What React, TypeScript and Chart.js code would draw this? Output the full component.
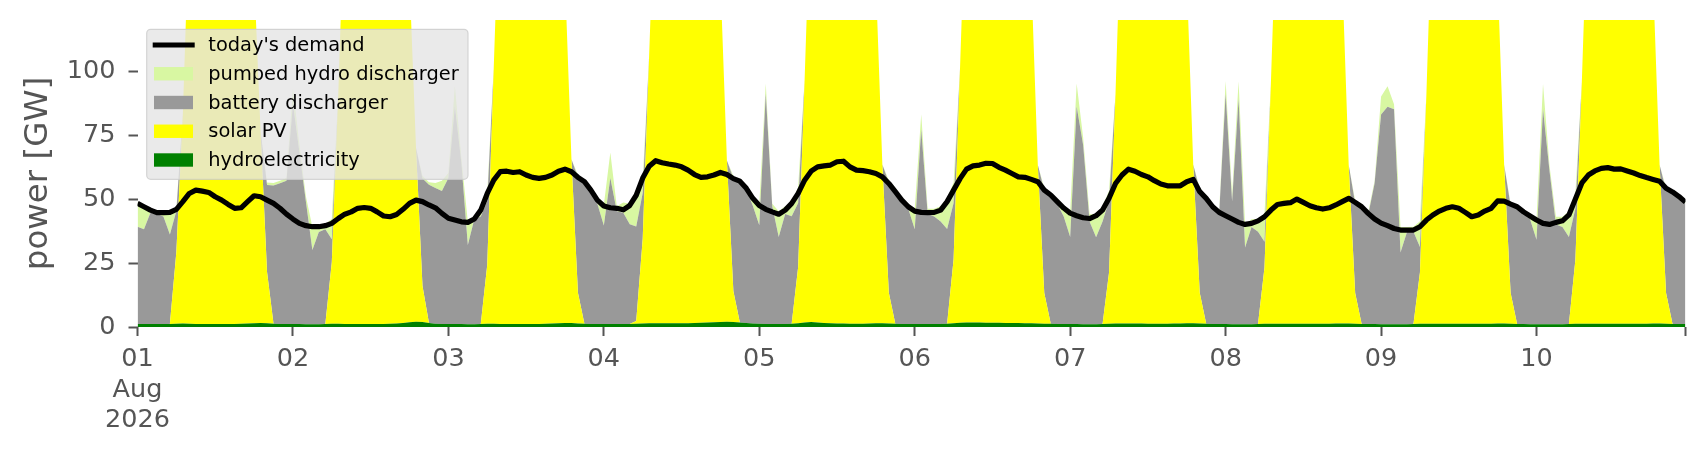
import { useEffect, useRef } from "react";
import { Chart, registerables } from "chart.js";

Chart.register(...registerables);

// hourly values, 1 Aug 2026 00:00 .. 10 Aug 2026 23:00, one row per day
const dayLabels = ["01", "02", "03", "04", "05", "06", "07", "08", "09", "10"];

const demandRows = [
  [48.3, 47.0, 45.7, 44.7, 44.7, 44.8, 46.0, 49.0, 52.2, 53.5, 53.1, 52.6, 50.9, 49.6, 47.9, 46.4, 46.6, 49.0, 51.3, 50.9, 49.6, 48.3, 46.4, 44.1],
  [42.2, 40.5, 39.6, 39.2, 39.2, 39.6, 40.5, 42.4, 44.1, 45.0, 46.4, 46.7, 46.4, 45.0, 43.4, 43.1, 44.0, 46.0, 48.3, 49.6, 49.0, 47.7, 46.6, 44.4],
  [42.5, 41.8, 41.1, 40.9, 42.2, 45.7, 52.2, 57.4, 60.7, 60.9, 60.4, 60.7, 59.4, 58.5, 58.1, 58.5, 59.4, 60.9, 61.7, 60.7, 58.5, 56.8, 53.5, 49.6],
  [47.3, 46.6, 46.4, 45.8, 47.5, 51.5, 58.2, 62.8, 65.0, 64.2, 63.7, 63.3, 62.6, 61.3, 59.6, 58.5, 58.7, 59.4, 60.4, 59.6, 58.0, 57.0, 54.2, 50.3],
  [47.5, 46.0, 45.0, 44.1, 45.7, 48.3, 52.2, 57.4, 60.9, 62.6, 63.0, 63.3, 64.6, 64.8, 62.6, 61.3, 61.1, 60.7, 60.0, 58.7, 56.1, 52.9, 49.6, 47.0],
  [45.3, 44.8, 44.7, 44.8, 45.7, 49.0, 53.5, 58.0, 61.7, 63.0, 63.3, 64.0, 63.9, 62.4, 61.3, 60.0, 58.7, 58.5, 57.7, 56.8, 53.5, 51.6, 49.0, 46.5],
  [44.5, 43.5, 42.7, 42.4, 43.5, 45.7, 50.3, 56.1, 59.4, 61.7, 60.9, 59.6, 58.7, 57.2, 55.9, 55.2, 55.2, 55.2, 56.8, 57.7, 52.9, 50.3, 47.0, 44.8],
  [43.5, 42.2, 40.9, 40.1, 40.5, 41.5, 43.1, 45.7, 47.9, 48.3, 48.6, 50.0, 48.7, 47.4, 46.6, 46.1, 46.6, 47.7, 49.0, 50.3, 48.7, 47.0, 44.4, 42.2],
  [40.6, 39.6, 38.5, 37.9, 37.9, 37.9, 39.2, 41.8, 43.8, 45.3, 46.4, 47.0, 46.4, 44.8, 43.1, 43.8, 45.3, 46.4, 49.3, 49.2, 48.0, 47.0, 45.0, 43.4],
  [41.8, 40.5, 40.1, 40.9, 41.5, 43.8, 50.0, 56.3, 59.4, 61.0, 62.0, 62.3, 61.7, 61.8, 61.0, 60.2, 59.2, 58.4, 57.7, 57.0, 54.2, 52.8, 51.0, 48.8],
];

const hydroRows = [
  [1.2, 1.2, 1.2, 1.2, 1.2, 1.2, 1.3, 1.4, 1.3, 1.2, 1.2, 1.2, 1.2, 1.2, 1.2, 1.2, 1.3, 1.4, 1.5, 1.6, 1.5, 1.3, 1.2, 1.2],
  [1.2, 1.2, 1.1, 1.1, 1.1, 1.2, 1.3, 1.3, 1.2, 1.2, 1.2, 1.2, 1.2, 1.2, 1.2, 1.3, 1.4, 1.6, 1.9, 2.1, 2.0, 1.6, 1.3, 1.2],
  [1.2, 1.2, 1.2, 1.1, 1.1, 1.2, 1.3, 1.3, 1.2, 1.2, 1.2, 1.2, 1.2, 1.2, 1.2, 1.3, 1.4, 1.5, 1.6, 1.6, 1.4, 1.3, 1.2, 1.2],
  [1.2, 1.2, 1.2, 1.2, 1.2, 1.3, 1.4, 1.5, 1.5, 1.5, 1.5, 1.5, 1.5, 1.5, 1.6, 1.7, 1.8, 1.9, 2.0, 2.1, 2.0, 1.8, 1.6, 1.4],
  [1.3, 1.2, 1.2, 1.2, 1.2, 1.3, 1.5, 1.8, 2.0, 1.8, 1.6, 1.5, 1.4, 1.4, 1.3, 1.3, 1.3, 1.4, 1.5, 1.5, 1.4, 1.3, 1.2, 1.2],
  [1.2, 1.2, 1.2, 1.2, 1.2, 1.3, 1.5, 1.7, 1.8, 1.8, 1.8, 1.7, 1.7, 1.7, 1.6, 1.6, 1.6, 1.5, 1.5, 1.4, 1.3, 1.3, 1.2, 1.2],
  [1.2, 1.2, 1.1, 1.1, 1.1, 1.2, 1.3, 1.4, 1.4, 1.4, 1.4, 1.4, 1.3, 1.3, 1.3, 1.3, 1.4, 1.4, 1.5, 1.5, 1.4, 1.3, 1.2, 1.2],
  [1.2, 1.1, 1.1, 1.1, 1.1, 1.2, 1.3, 1.3, 1.3, 1.3, 1.3, 1.3, 1.3, 1.3, 1.3, 1.3, 1.3, 1.4, 1.4, 1.4, 1.3, 1.2, 1.2, 1.2],
  [1.1, 1.1, 1.1, 1.1, 1.1, 1.2, 1.3, 1.3, 1.3, 1.3, 1.3, 1.3, 1.3, 1.3, 1.3, 1.3, 1.3, 1.3, 1.4, 1.4, 1.3, 1.2, 1.2, 1.1],
  [1.1, 1.1, 1.1, 1.1, 1.1, 1.2, 1.3, 1.3, 1.3, 1.3, 1.3, 1.3, 1.3, 1.3, 1.3, 1.3, 1.3, 1.3, 1.4, 1.4, 1.3, 1.2, 1.2, 1.2],
];

const solarRows = [
  [0, 0, 0, 0, 0, 0, 28, 82, 160, 205, 232, 246, 250, 244, 230, 208, 183, 160, 136, 75, 20, 0, 0, 0],
  [0, 0, 0, 0, 0, 0, 24, 90, 168, 210, 236, 250, 252, 246, 232, 210, 185, 160, 134, 68, 14, 0, 0, 0],
  [0, 0, 0, 0, 0, 0, 23, 100, 175, 214, 238, 250, 254, 248, 233, 212, 186, 162, 135, 64, 12, 0, 0, 0],
  [0, 0, 0, 0, 0, 1, 33, 105, 178, 215, 240, 252, 255, 248, 234, 212, 187, 161, 134, 63, 12, 0, 0, 0],
  [0, 0, 0, 0, 0, 0, 22, 95, 172, 212, 236, 248, 252, 246, 232, 210, 184, 160, 134, 62, 12, 0, 0, 0],
  [0, 0, 0, 0, 0, 0, 25, 100, 176, 214, 238, 250, 254, 247, 233, 211, 185, 160, 135, 62, 12, 0, 0, 0],
  [0, 0, 0, 0, 0, 0, 20, 90, 170, 210, 235, 248, 251, 245, 231, 209, 184, 160, 135, 62, 12, 0, 0, 0],
  [0, 0, 0, 0, 0, 0, 22, 95, 172, 212, 236, 249, 252, 246, 232, 210, 185, 161, 136, 62, 12, 0, 0, 0],
  [0, 0, 0, 0, 0, 0, 20, 90, 170, 210, 235, 248, 251, 245, 231, 209, 184, 160, 135, 62, 12, 0, 0, 0],
  [0, 0, 0, 0, 0, 0, 25, 95, 172, 212, 236, 249, 252, 246, 232, 210, 184, 160, 134, 62, 12, 0, 0, 0],
];

const batteryRows = [
  [38, 37, 43.5, 43, 42, 35, 16, 0, 0, 0, 0, 0, 0, 0, 0, 0, 0, 0, 0, 0, 34, 54, 55, 56],
  [86, 67, 48, 29, 36, 37, 9, 0, 0, 0, 0, 0, 0, 0, 0, 0, 0, 0, 0, 0, 42, 54, 53, 52],
  [57, 85, 63, 31, 41, 42, 25, 0, 0, 0, 0, 0, 0, 0, 0, 0, 0, 0, 0, 0, 45, 55, 52, 47],
  [38.5, 57, 44, 43.5, 39, 37, 18, 0, 0, 0, 0, 0, 0, 0, 0, 0, 0, 0, 0, 0, 44, 54, 52, 46],
  [38.5, 90, 46, 34, 43, 42, 25, 0, 0, 0, 0, 0, 0, 0, 0, 0, 0, 0, 0, 0, 43, 52, 48, 45],
  [37, 76, 43, 42, 40, 37, 22, 0, 0, 0, 0, 0, 0, 0, 0, 0, 0, 0, 0, 0, 40, 50, 47, 42],
  [34, 85, 70, 40, 34, 40, 28, 0, 0, 0, 0, 0, 0, 0, 0, 0, 0, 0, 0, 0, 40, 49, 46, 43],
  [90, 48, 88, 30, 38, 36, 10, 0, 0, 0, 0, 0, 0, 0, 0, 0, 0, 0, 0, 0, 35, 46, 42.5, 55],
  [82, 85, 84, 28, 36, 36, 10, 0, 0, 0, 0, 0, 0, 0, 0, 0, 0, 0, 0, 0, 34, 45, 43, 41],
  [33, 84, 60, 39, 38, 34, 20, 0, 0, 0, 0, 0, 0, 0, 0, 0, 0, 0, 0, 0, 40, 51, 49, 47],
];

const pumpedRows = [
  [10, 9, 1, 0.5, 1.5, 9, 1, 0, 0, 0, 0, 0, 0, 0, 0, 0, 0, 0, 0, 0, 1, 1, 1, 1],
  [6, 3, 2, 9, 2, 2, 8, 0, 0, 0, 0, 0, 0, 0, 0, 0, 0, 0, 0, 0, 1, 1, 2, 4],
  [2, 8, 2, 9, 1.5, 3, 3, 0, 0, 0, 0, 0, 0, 0, 0, 0, 0, 0, 0, 0, 1, 1, 1, 2],
  [8, 10, 2, 4, 8, 12, 5, 0, 0, 0, 0, 0, 0, 0, 0, 0, 0, 0, 0, 0, 1, 1, 1, 4],
  [8, 4, 1, 10, 3, 5, 6, 0, 0, 0, 0, 0, 0, 0, 0, 0, 0, 0, 0, 0, 1, 1, 1, 2],
  [8, 6, 2, 3, 6, 12, 8, 0, 0, 0, 0, 0, 0, 0, 0, 0, 0, 0, 0, 0, 1, 1, 1, 3],
  [10, 9, 3, 3, 9, 6, 4, 0, 0, 0, 0, 0, 0, 0, 0, 0, 0, 0, 0, 0, 1, 1, 1, 1],
  [5, 3, 7, 9, 3, 5, 11, 0, 0, 0, 0, 0, 0, 0, 0, 0, 0, 0, 0, 0, 1, 1, 1, 1],
  [7, 8, 2, 10, 2, 2, 10, 0, 0, 0, 0, 0, 0, 0, 0, 0, 0, 0, 0, 0, 1, 1, 1, 2],
  [8, 10, 2, 3, 4, 10, 6, 0, 0, 0, 0, 0, 0, 0, 0, 0, 0, 0, 0, 0, 1, 1, 1, 1],
];

const yTicks = [0, 25, 50, 75, 100];

const FONT = "DejaVu Sans";
const GREY_TEXT = "#555555";

const series = [
  { label: "today's demand", color: "#000000", kind: "line" },
  { label: "pumped hydro discharger", color: "#d8f7a2", kind: "patch" },
  { label: "battery discharger", color: "#999999", kind: "patch" },
  { label: "solar PV", color: "#ffff00", kind: "patch" },
  { label: "hydroelectricity", color: "#008000", kind: "patch" },
];

const flat = (rows: number[][]) => rows.flat();

const boxLegend = {
  id: "boxLegend",
  afterDraw(chart: Chart) {
    const { ctx, chartArea } = chart;
    const x0 = chartArea.left + 9.2;
    const y0 = chartArea.top + 9.3;
    ctx.save();
    ctx.beginPath();
    ctx.roundRect(x0, y0, 321.3, 150, 4);
    ctx.fillStyle = "rgba(229,229,229,0.8)";
    ctx.fill();
    ctx.strokeStyle = "rgba(204,204,204,0.8)";
    ctx.lineWidth = 1.2;
    ctx.stroke();

    ctx.font = `19.4px "${FONT}"`;
    ctx.textBaseline = "middle";
    series.forEach((s, i) => {
      const cy = y0 + 15.7 + i * 28.75;
      if (s.kind === "line") {
        ctx.strokeStyle = s.color;
        ctx.lineWidth = 5;
        ctx.beginPath();
        ctx.moveTo(x0 + 6, cy);
        ctx.lineTo(x0 + 48, cy);
        ctx.stroke();
      } else {
        ctx.fillStyle = s.color;
        ctx.fillRect(x0 + 7.3, cy - 6.7, 39, 13.4);
      }
      ctx.fillStyle = "#000000";
      ctx.fillText(s.label, x0 + 61.6, cy + 1);
    });
    ctx.restore();
  },
};

const App = () => {
  const canvasRef = useRef<HTMLCanvasElement>(null);

  useEffect(() => {
    document.body.style.margin = "0";
    if (!canvasRef.current) return;

    const demand = flat(demandRows);
    const hydro = flat(hydroRows);
    const solar = flat(solarRows);
    const battery = flat(batteryRows);
    const pumped = flat(pumpedRows);
    const hours = demand.map((_, i) => i);
    const lastHour = hours[hours.length - 1];
    const xTicks = [...dayLabels.map((_, d) => d * 24), lastHour];

    const area = (values: number[], color: string, fill: string | number) => ({
      data: values.map((v, i) => ({ x: hours[i], y: v })),
      backgroundColor: color,
      borderWidth: 0,
      pointRadius: 0,
      fill,
      stack: "supply",
      tension: 0,
    });

    const chart = new Chart(canvasRef.current, {
      type: "line",
      data: {
        datasets: [
          {
            label: series[0].label,
            data: demand.map((v, i) => ({ x: hours[i], y: v })),
            borderColor: series[0].color,
            borderWidth: 5.2,
            pointRadius: 0,
            fill: false,
            stack: "demand",
            tension: 0,
            borderJoinStyle: "round",
          },
          area(hydro, series[4].color, "origin"),
          area(solar, series[3].color, "-1"),
          area(battery, series[2].color, "-1"),
          area(pumped, series[1].color, "-1"),
        ],
      },
      options: {
        animation: false,
        responsive: false,
        devicePixelRatio: 1,
        events: [],
        layout: { autoPadding: false, padding: { left: 0, top: 20, right: 20.5, bottom: 0 } },
        plugins: {
          legend: { display: false },
          tooltip: { enabled: false },
        },
        scales: {
          x: {
            type: "linear",
            min: 0,
            max: lastHour,
            afterBuildTicks: (scale) => {
              scale.ticks = xTicks.map((value) => ({ value }));
            },
            afterFit: (scale) => {
              scale.height = 133;
              scale.paddingLeft = 0;
              scale.paddingRight = 0;
            },
            ticks: {
              autoSkip: false,
              maxRotation: 0,
              padding: 8,
              color: GREY_TEXT,
              font: { family: FONT, size: 25.5 },
              callback: (value) => {
                const d = Number(value) / 24;
                if (value === 0) return [dayLabels[0], "Aug", "2026"];
                if (Number.isInteger(d) && d < dayLabels.length) return dayLabels[d];
                return "";
              },
            },
            grid: {
              drawOnChartArea: false,
              drawTicks: true,
              tickLength: 9,
              tickColor: GREY_TEXT,
              tickWidth: 2,
            },
            border: { display: false },
          },
          y: {
            type: "linear",
            stacked: true,
            min: 0,
            max: 120,
            afterBuildTicks: (scale) => {
              scale.ticks = yTicks.map((value) => ({ value }));
            },
            afterFit: (scale) => {
              scale.width = 137.5;
              scale.paddingTop = 0;
              scale.paddingBottom = 0;
            },
            ticks: {
              padding: 13,
              color: GREY_TEXT,
              font: { family: FONT, size: 25.5 },
            },
            grid: {
              drawOnChartArea: false,
              drawTicks: true,
              tickLength: 9,
              tickColor: GREY_TEXT,
              tickWidth: 2,
            },
            border: { display: false },
            title: {
              display: true,
              text: "power [GW]",
              color: GREY_TEXT,
              font: { family: FONT, size: 32.5 },
              padding: { top: 19.5, bottom: 0 },
            },
          },
        },
      },
      plugins: [boxLegend],
    });

    return () => {
      chart.destroy();
    };
  }, []);

  return (
    <div style={{ width: 1706, height: 460, background: "#ffffff" }}>
      <canvas ref={canvasRef} width={1706} height={460} />
    </div>
  );
};

export default App;
